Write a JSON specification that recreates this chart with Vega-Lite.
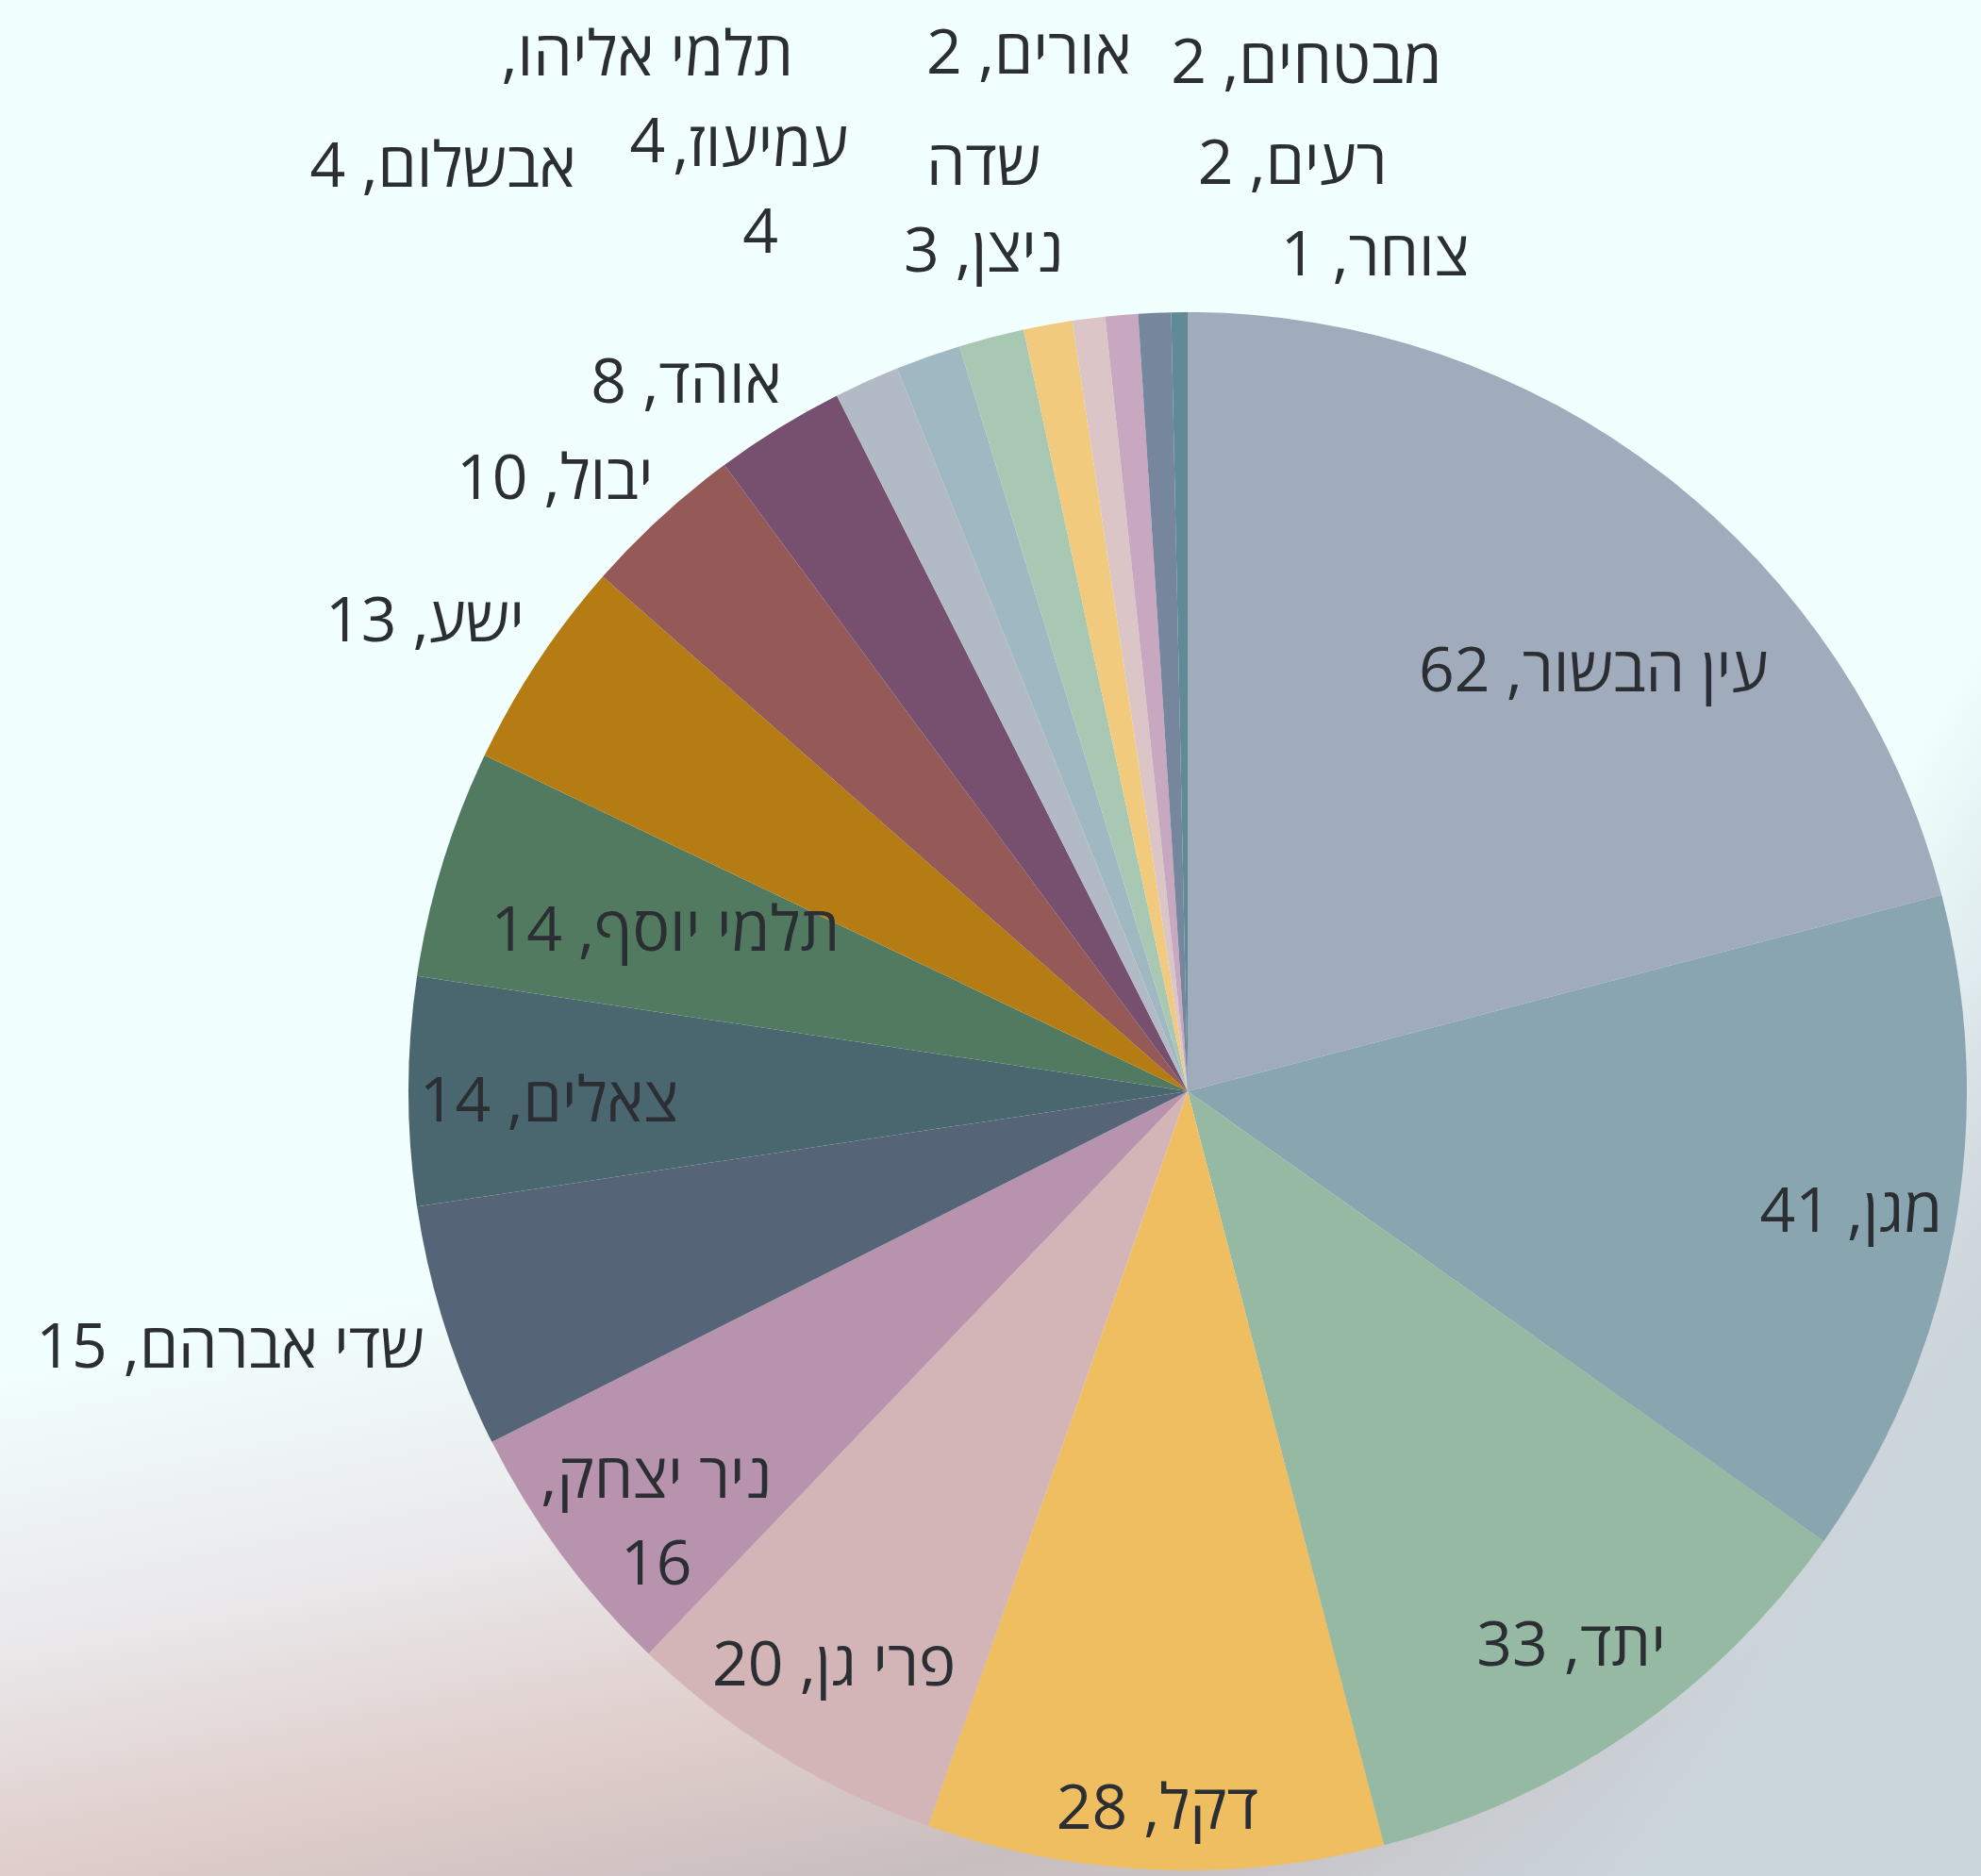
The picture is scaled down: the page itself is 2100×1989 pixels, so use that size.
{
  "$schema": "https://vega.github.io/schema/vega-lite/v6.json",
  "width": 1682,
  "height": 1664,
  "autosize": {"type": "none"},
  "padding": {"left": 418, "top": 325, "right": 0, "bottom": 0},
  "background": "#F1FFFE",
  "data": {
    "values": [
      {"name": "עין הבשור", "value": 62, "label": "עין הבשור, 62"},
      {"name": "מגן", "value": 41, "label": "מגן, 41"},
      {"name": "יתד", "value": 33, "label": "יתד, 33"},
      {"name": "דקל", "value": 28, "label": "דקל, 28"},
      {"name": "פרי גן", "value": 20, "label": "פרי גן, 20"},
      {"name": "ניר יצחק", "value": 16, "label": "ניר יצחק,\u200f\n16"},
      {"name": "שדי אברהם", "value": 15, "label": "שדי אברהם, 15"},
      {"name": "צאלים", "value": 14, "label": "צאלים, 14"},
      {"name": "תלמי יוסף", "value": 14, "label": "תלמי יוסף, 14"},
      {"name": "ישע", "value": 13, "label": "ישע, 13"},
      {"name": "יבול", "value": 10, "label": "יבול, 10"},
      {"name": "אוהד", "value": 8, "label": "אוהד, 8"},
      {"name": "אבשלום", "value": 4, "label": "אבשלום, 4"},
      {"name": "עמיעוז", "value": 4, "label": "עמיעוז,\u200f\n4"},
      {"name": "תלמי אליהו", "value": 4, "label": "תלמי אליהו,\u200f\n4"},
      {"name": "שדה ניצן", "value": 3, "label": "שדה\nניצן, 3"},
      {"name": "אורים", "value": 2, "label": "אורים, 2"},
      {"name": "מבטחים", "value": 2, "label": "מבטחים, 2"},
      {"name": "רעים", "value": 2, "label": "רעים, 2"},
      {"name": "צוחר", "value": 1, "label": "צוחר, 1"}
    ]
  },
  "layer": [
    {
      "data": {"values": [{}]},
      "mark": {
        "type": "arc",
        "theta": 0,
        "theta2": 6.2832,
        "outerRadius": 2000,
        "stroke": null,
        "fill": {
          "gradient": "linear",
          "x1": 0.255, "y1": 0.5593, "x2": 0.3011, "y2": 0.7901,
          "stops": [
            {"offset": 0, "color": "#F1FFFE"},
            {"offset": 0.3125, "color": "#EAE8EA"},
            {"offset": 0.5625, "color": "#DFCDCA"},
            {"offset": 0.76, "color": "#C9BEBF"},
            {"offset": 1, "color": "#C6CFD5"}
          ]
        }
      }
    },
    {
      "data": {"values": [{}]},
      "mark": {
        "type": "arc",
        "theta": 0,
        "theta2": 6.2832,
        "outerRadius": 2000,
        "stroke": null,
        "fill": {
          "gradient": "linear",
          "x1": 0.6448, "y1": 0.4865, "x2": 0.7275, "y2": 0.5361,
          "stops": [
            {"offset": 0, "color": "rgba(203,213,220,0)"},
            {"offset": 1, "color": "rgba(203,213,220,1)"}
          ]
        }
      }
    },
    {
      "encoding": {
        "theta": {"field": "value", "type": "quantitative", "stack": true},
        "order": {"field": "value", "type": "quantitative", "sort": "descending"}
      },
      "layer": [
        {
          "mark": {"type": "arc", "outerRadius": 826, "strokeWidth": 0},
          "encoding": {
            "color": {
              "field": "name",
              "type": "nominal",
              "legend": null,
              "scale": {
                "domain": ["עין הבשור", "מגן", "יתד", "דקל", "פרי גן", "ניר יצחק", "שדי אברהם", "צאלים", "תלמי יוסף", "ישע", "יבול", "אוהד", "אבשלום", "עמיעוז", "תלמי אליהו", "שדה ניצן", "אורים", "מבטחים", "רעים", "צוחר"],
                "range": ["#A0ABBB", "#89A6B0", "#95B9A3", "#EFBE61", "#D4B5B7", "#B893AE", "#566478", "#4A6770", "#517A61", "#B67C14", "#955958", "#774F6F", "#B2BAC6", "#A0B8C1", "#A9C8B3", "#F1CA7D", "#DCC5C6", "#C7A8C0", "#76869C", "#5F8A96"]
              }
            }
          }
        },
        {"mark": {"type": "text", "radius": 715, "dy": 1},
         "encoding": {"text": {"condition": {"test": "indexof(['מגן','יתד','פרי גן'], datum.name) >= 0", "field": "label"}, "value": ""}}},
        {"mark": {"type": "text", "radius": 759, "dy": 4},
         "encoding": {"text": {"condition": {"test": "datum.name === 'דקל'", "field": "label"}, "value": ""}}},
        {"mark": {"type": "text", "radius": 677, "dy": 12},
         "encoding": {"text": {"condition": {"test": "datum.name === 'צאלים'", "field": "label"}, "value": ""}}},
        {"mark": {"type": "text", "radius": 579, "dy": 1},
         "encoding": {"text": {"condition": {"test": "datum.name === 'תלמי יוסף'", "field": "label"}, "value": ""}}},
        {"mark": {"type": "text", "radius": 620, "dx": 51, "dy": 47},
         "encoding": {"text": {"condition": {"test": "datum.name === 'עין הבשור'", "field": "label"}, "value": ""}}},
        {"mark": {"type": "text", "radius": 723, "dx": 18, "dy": -19},
         "encoding": {"text": {"condition": {"test": "datum.name === 'ניר יצחק'", "field": "label"}, "value": ""}}},
        {"mark": {"type": "text", "radius": 1000, "dx": -62, "dy": -30},
         "encoding": {"text": {"condition": {"test": "datum.name === 'שדי אברהם'", "field": "label"}, "value": ""}}},
        {"mark": {"type": "text", "radius": 909, "dx": -50, "dy": 4},
         "encoding": {"text": {"condition": {"test": "datum.name === 'ישע'", "field": "label"}, "value": ""}}},
        {"mark": {"type": "text", "radius": 885, "dx": -72, "dy": 4},
         "encoding": {"text": {"condition": {"test": "datum.name === 'יבול'", "field": "label"}, "value": ""}}},
        {"mark": {"type": "text", "radius": 886, "dx": -67, "dy": 4},
         "encoding": {"text": {"condition": {"test": "datum.name === 'אוהד'", "field": "label"}, "value": ""}}},
        {"mark": {"type": "text", "radius": 1079, "dx": -345, "dy": 4},
         "encoding": {"text": {"condition": {"test": "datum.name === 'אבשלום'", "field": "label"}, "value": ""}}},
        {"mark": {"type": "text", "radius": 1017, "dx": -114, "dy": -42},
         "encoding": {"text": {"condition": {"test": "datum.name === 'עמיעוז'", "field": "label"}, "value": ""}}},
        {"mark": {"type": "text", "radius": 1090, "dx": -298, "dy": -42},
         "encoding": {"text": {"condition": {"test": "datum.name === 'תלמי אליהו'", "field": "label"}, "value": ""}}},
        {"mark": {"type": "text", "radius": 955, "dx": -45, "dy": -42},
         "encoding": {"text": {"condition": {"test": "datum.name === 'שדה ניצן'", "field": "label"}, "value": ""}}},
        {"mark": {"type": "text", "radius": 1112, "dx": -27, "dy": 4},
         "encoding": {"text": {"condition": {"test": "datum.name === 'אורים'", "field": "label"}, "value": ""}}},
        {"mark": {"type": "text", "radius": 1097, "dx": 219, "dy": 4},
         "encoding": {"text": {"condition": {"test": "datum.name === 'מבטחים'", "field": "label"}, "value": ""}}},
        {"mark": {"type": "text", "radius": 987, "dx": 153, "dy": 4},
         "encoding": {"text": {"condition": {"test": "datum.name === 'רעים'", "field": "label"}, "value": ""}}},
        {"mark": {"type": "text", "radius": 889, "dx": 208, "dy": 4},
         "encoding": {"text": {"condition": {"test": "datum.name === 'צוחר'", "field": "label"}, "value": ""}}}
      ]
    }
  ],
  "config": {
    "view": {"stroke": null},
    "text": {
      "font": "Open Sans, DejaVu Sans, sans-serif",
      "fontSize": 66,
      "color": "#2B2E33",
      "align": "center",
      "baseline": "middle",
      "lineBreak": "\n",
      "lineHeight": 92
    }
  }
}
